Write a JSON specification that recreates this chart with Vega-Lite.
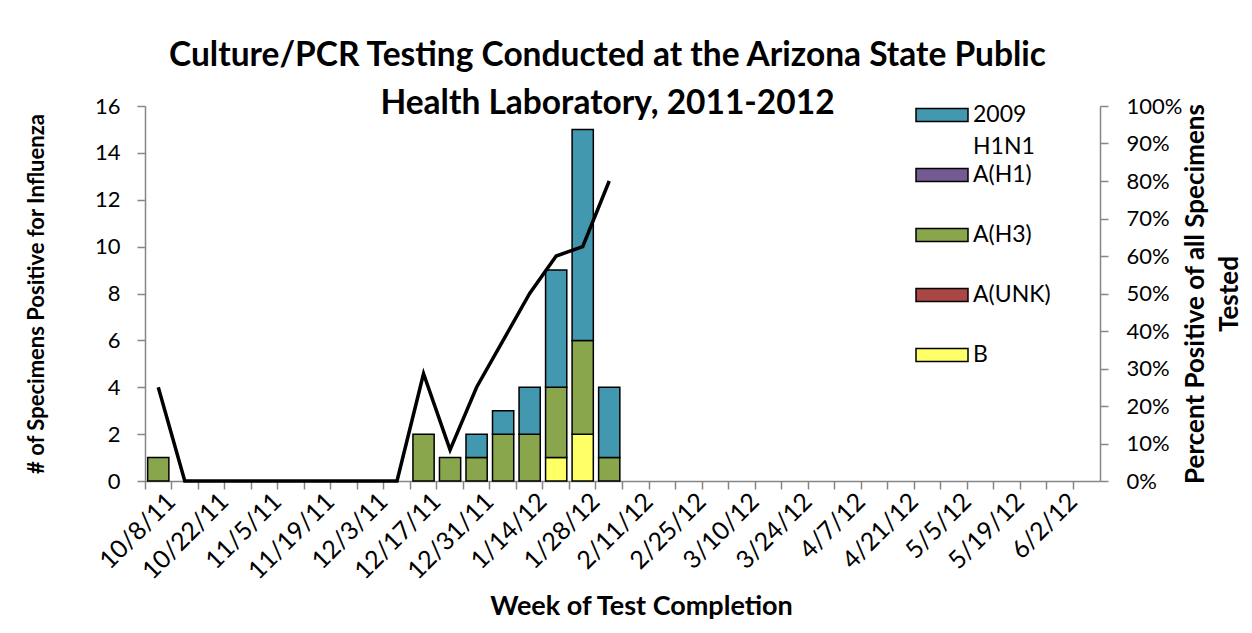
{
  "$schema": "https://vega.github.io/schema/vega-lite/v6.json",
  "width": 955,
  "height": 375,
  "autosize": "none",
  "padding": {"left": 145, "top": 106, "right": 152, "bottom": 152},
  "background": "white",
  "config": {
    "view": {"stroke": null},
    "font": "Lato",
    "style": {"guide-label": {"lineHeight": 32}},
    "axis": {"grid": false, "domainColor": "#868686", "tickColor": "#868686", "tickSize": 8, "domainWidth": 1.5, "tickWidth": 1.5, "labelFont": "Lato", "labelFontSize": 22, "labelColor": "black", "titleFont": "Lato", "titleFontSize": 22, "titleFontWeight": "bold", "titleColor": "black"}
  },
  "title": {
    "text": ["Culture/PCR Testing Conducted at the Arizona State Public", "Health Laboratory, 2011-2012"],
    "font": "Lato", "fontSize": 33.5, "fontWeight": "bold", "color": "black",
    "lineHeight": 48, "anchor": "middle", "offset": -16, "dx": -15, "dy": 10
  },
  "datasets": {
    "weeks": [
      {"week": "10/8/11", "pct": 0.25}, {"week": "10/15/11", "pct": 0}, {"week": "10/22/11", "pct": 0}, {"week": "10/29/11", "pct": 0},
      {"week": "11/5/11", "pct": 0}, {"week": "11/12/11", "pct": 0}, {"week": "11/19/11", "pct": 0}, {"week": "11/26/11", "pct": 0},
      {"week": "12/3/11", "pct": 0}, {"week": "12/10/11", "pct": 0}, {"week": "12/17/11", "pct": 0.286}, {"week": "12/24/11", "pct": 0.083},
      {"week": "12/31/11", "pct": 0.25}, {"week": "1/7/12", "pct": 0.375}, {"week": "1/14/12", "pct": 0.5}, {"week": "1/21/12", "pct": 0.6},
      {"week": "1/28/12", "pct": 0.625}, {"week": "2/4/12", "pct": 0.8}
    ],
    "counts": [
      {"week": "10/8/11", "type": "A(H3)", "count": 1},
      {"week": "12/17/11", "type": "A(H3)", "count": 2},
      {"week": "12/24/11", "type": "A(H3)", "count": 1},
      {"week": "12/31/11", "type": "A(H3)", "count": 1},
      {"week": "12/31/11", "type": "2009 H1N1", "count": 1},
      {"week": "1/7/12", "type": "A(H3)", "count": 2},
      {"week": "1/7/12", "type": "2009 H1N1", "count": 1},
      {"week": "1/14/12", "type": "A(H3)", "count": 2},
      {"week": "1/14/12", "type": "2009 H1N1", "count": 2},
      {"week": "1/21/12", "type": "B", "count": 1},
      {"week": "1/21/12", "type": "A(H3)", "count": 3},
      {"week": "1/21/12", "type": "2009 H1N1", "count": 5},
      {"week": "1/28/12", "type": "B", "count": 2},
      {"week": "1/28/12", "type": "A(H3)", "count": 4},
      {"week": "1/28/12", "type": "2009 H1N1", "count": 9},
      {"week": "2/4/12", "type": "A(H3)", "count": 1},
      {"week": "2/4/12", "type": "2009 H1N1", "count": 3}
    ]
  },
  "encoding": {
    "x": {
      "field": "week", "type": "nominal", "sort": null,
      "scale": {
        "domain": ["10/8/11", "10/15/11", "10/22/11", "10/29/11", "11/5/11", "11/12/11", "11/19/11", "11/26/11", "12/3/11", "12/10/11", "12/17/11", "12/24/11", "12/31/11", "1/7/12", "1/14/12", "1/21/12", "1/28/12", "2/4/12", "2/11/12", "2/18/12", "2/25/12", "3/3/12", "3/10/12", "3/17/12", "3/24/12", "3/31/12", "4/7/12", "4/14/12", "4/21/12", "4/28/12", "5/5/12", "5/12/12", "5/19/12", "5/26/12", "6/2/12", "6/9/12"],
        "paddingInner": 0, "paddingOuter": 0
      },
      "axis": {
        "title": "Week of Test Completion", "titleFontSize": 27, "titlePadding": 10, "titleX": 496,
        "labelAngle": -45, "labelAlign": "right", "labelBaseline": "middle", "labelPadding": 8, "labelFontSize": 25,
        "bandPosition": 0, "labelOffset": 13,
        "labelExpr": "indexof(['10/8/11','10/22/11','11/5/11','11/19/11','12/3/11','12/17/11','12/31/11','1/14/12','1/28/12','2/11/12','2/25/12','3/10/12','3/24/12','4/7/12','4/21/12','5/5/12','5/19/12','6/2/12'], datum.value) >= 0 ? datum.label : ''"
      }
    }
  },
  "layer": [
    {
      "data": {"name": "counts"},
      "mark": {"type": "bar", "stroke": "black", "strokeWidth": 1.5, "width": {"band": 0.8}},
      "encoding": {
        "y": {
          "field": "count", "type": "quantitative", "stack": "zero",
          "scale": {"domain": [0, 16]},
          "axis": {"title": "# of Specimens Positive for Influenza", "values": [0, 2, 4, 6, 8, 10, 12, 14, 16], "labelPadding": 17, "titlePadding": 46}
        },
        "color": {
          "field": "type", "type": "nominal",
          "scale": {"domain": ["2009 H1N1", "A(H1)", "A(H3)", "A(UNK)", "B"], "range": ["#4198AF", "#745A93", "#8AA64D", "#AA4643", "#FFFF66"]},
          "legend": {
            "title": null, "orient": "none", "legendX": 783, "legendY": -5,
            "symbolType": "M-2,-0.5L2,-0.5L2,0.5L-2,0.5Z", "symbolSize": 676,
            "symbolStrokeWidth": 1.5, "symbolOpacity": 1,
            "labelFont": "Lato", "labelFontSize": 23, "labelColor": "black", "labelOffset": 17,
            "rowPadding": 2, "labelLimit": 200,
            "labelExpr": "datum.label == '2009 H1N1' ? ['2009', 'H1N1'] : [datum.label, '']",
            "encode": {
              "symbols": {"update": {"stroke": {"signal": "datum.value == 'A(H1)' || datum.value == 'A(UNK)' ? 'transparent' : 'black'"}}},
              "labels": {"update": {"lineHeight": {"value": 32}}}
            }
          }
        },
        "order": {"field": "type", "sort": "descending"}
      }
    },
    {
      "data": {"name": "weeks"},
      "mark": {"type": "line", "color": "black", "strokeWidth": 3.5},
      "encoding": {
        "y": {
          "field": "pct", "type": "quantitative",
          "scale": {"domain": [0, 1]},
          "axis": {"orient": "right", "format": ".0%", "values": [0, 0.1, 0.2, 0.3, 0.4, 0.5, 0.6, 0.7, 0.8, 0.9, 1], "title": ["Percent Positive of all Specimens", "Tested"], "titleFontSize": 26, "labelPadding": 18, "titlePadding": -7, "titleAngle": 270, "titleLineHeight": 34}
        }
      }
    }
  ],
  "resolve": {"scale": {"y": "independent"}}
}
